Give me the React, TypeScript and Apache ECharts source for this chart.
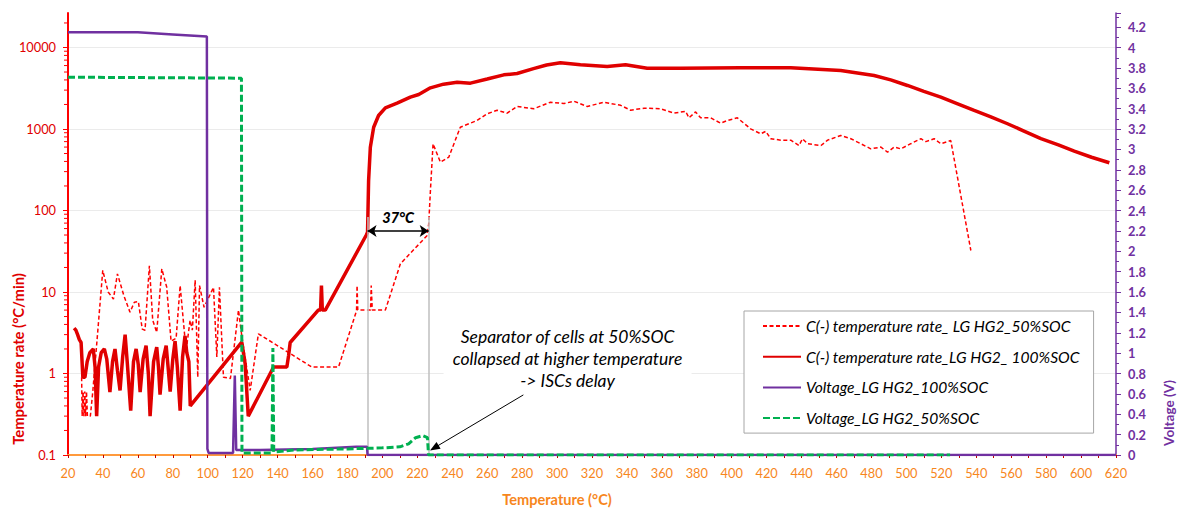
import React, { useEffect, useRef } from 'react';
import * as echarts from 'echarts';

// ---------- data ----------
const rate50T = [27.8, 28.1, 28.6, 29.1, 29.6, 30.1, 30.6, 31.1, 32.8, 34.2, 39.9, 43, 46, 48.3, 52, 55.5, 58, 60.3, 62.5, 64.1, 66.6, 68.5, 70.8, 73.7, 76.5, 79, 81.9, 84.2, 87.6, 89.9, 91.2, 92.8, 94.3, 95.3, 97.9, 103.3, 105.2, 106.7, 109, 113, 117.6, 119.5, 124.3, 129, 159.6, 174.9, 185.2, 185.5, 185.9, 193.2, 193.6, 194.2, 201.7, 210.3, 225.5, 226.5, 227.5, 229, 233.2, 238, 244.6, 254.2, 259.9, 265.7, 271.4, 277.1, 286.6, 296.2, 303.9, 309.6, 317.3, 326.8, 336.4, 342.1, 349.8, 359.3, 366.9, 373.6, 375.5, 379.3, 382.2, 387.9, 393.6, 397.5, 403.2, 410.8, 416.6, 419.5, 422.3, 428.1, 433.8, 438.5, 440.5, 443.4, 451.1, 454.9, 462.4, 468.2, 473.9, 479.6, 485.4, 489.2, 493, 496.8, 502.5, 508.3, 511.1, 515.9, 519.7, 525.4, 536.9];
const rate50V = [0.9, 0.3, 0.6, 0.3, 0.6, 0.3, 0.6, 0.3, 0.3, 0.6, 18.4, 10, 8.2, 16.7, 9, 5.65, 7.5, 7.6, 3.5, 3.4, 21, 4.5, 3.2, 19.2, 11.5, 2.5, 2.7, 12, 1.9, 4.5, 3.4, 14, 0.9, 12, 6.5, 11.4, 1.6, 11.4, 0.9, 0.87, 6, 2.9, 0.62, 3.07, 1.2, 1.2, 5.9, 12, 6, 6, 12, 6, 6, 22.2, 49, 68, 176, 658, 392, 451, 1052, 1271, 1535, 1700, 1564, 1889, 1770, 2133, 2050, 2193, 1889, 2133, 1950, 1700, 1800, 1770, 1564, 1650, 1372, 1620, 1372, 1372, 1178, 1271, 1372, 1005, 873, 937, 760, 730, 730, 627, 760, 660, 627, 730, 833, 760, 660, 571, 600, 520, 600, 571, 660, 760, 700, 760, 660, 722, 32.3];

const rate100T = [23.5, 24.5, 25.5, 26.5, 27.5, 28.5, 29.7, 31, 32.5, 34.5, 35.5, 36.4, 37.5, 39, 40.8, 42.2, 44, 45.5, 46.9, 48.3, 49.8, 51.3, 52.7, 54, 55.9, 57.5, 59, 60.2, 61.3, 63, 64.7, 66, 67, 69, 70.8, 71.8, 72.7, 74.5, 76.2, 77.3, 78.5, 80, 81.3, 82.6, 84.2, 85.6, 87, 88, 89.2, 90, 119.5, 121.4, 123.2, 137.7, 145.3, 146.3, 147.2, 163.3, 164.6, 165.1, 165.6, 167.3, 190.8, 191.5, 192.1, 193.1, 195, 197.8, 201.7, 208.4, 216, 220.8, 227.5, 235, 242.8, 250.4, 260, 269.5, 277.1, 286.5, 294, 301.9, 313.4, 328.7, 339.2, 351.6, 370.7, 405, 433.8, 462.4, 481.5, 491, 500.6, 510, 519.7, 529, 538.8, 548, 557.9, 567, 577, 587, 596.1, 606, 616.2];
const rate100V = [3.6, 3.4, 3.0, 2.6, 2.4, 0.9, 0.9, 1.4, 1.8, 2.0, 1.2, 0.3, 1.2, 1.8, 2.0, 1.5, 0.59, 1.4, 2.0, 1.1, 0.62, 1.6, 3.0, 1.3, 0.35, 1.4, 2.0, 1.3, 0.59, 1.5, 2.2, 1.0, 0.3, 1.4, 2.1, 1.2, 0.55, 1.5, 2.2, 1.2, 0.6, 1.5, 2.5, 1.2, 0.35, 1.6, 2.9, 1.8, 1.4, 0.4, 2.42, 1.33, 0.3, 1.2, 1.2, 1.66, 2.4, 6, 6, 12, 6, 6, 50, 54, 233, 598, 1052, 1465, 1820, 2073, 2455, 2650, 3200, 3550, 3750, 3650, 4100, 4620, 4800, 5500, 6100, 6490, 6130, 5850, 6130, 5570, 5570, 5640, 5640, 5220, 4530, 4000, 3420, 2900, 2455, 2050, 1690, 1420, 1160, 950, 760, 640, 535, 450, 385];

const volt100T = [20, 60, 80, 99.5, 99.8, 100.5, 114.5, 115.5, 116.3, 130, 160, 185, 191.2, 191.5, 620];
const volt100V = [4.15, 4.15, 4.13, 4.11, 0.06, 0.02, 0.02, 0.78, 0.05, 0.05, 0.06, 0.08, 0.08, 0, 0];

const volt50T = [20, 119.3, 119.6, 136.8, 137.3, 137.8, 150, 180, 200, 210, 215, 219, 223, 225.8, 226.4, 525];
const volt50V = [3.71, 3.7, 0.02, 0.02, 1.05, 0.03, 0.05, 0.06, 0.07, 0.08, 0.11, 0.17, 0.19, 0.17, 0, 0];

const legendNames = [
  'C(-) temperature rate_ LG HG2_50%SOC',
  'C(-) temperature rate_LG HG2_ 100%SOC',
  'Voltage_LG HG2_100%SOC',
  'Voltage_LG HG2_50%SOC',
];

const logMinorTicks = [0.2, 0.3, 0.4, 0.5, 0.6, 0.7, 0.8, 0.9, 2, 3, 4, 5, 6, 7, 8, 9, 20, 30, 40, 50, 60, 70, 80, 90, 200, 300, 400, 500, 600, 700, 800, 900, 2000, 3000, 4000, 5000, 6000, 7000, 8000, 9000, 20000];

const gapStart = 191.5;
const gapEnd = 226.5;
const gapLabel = '37°C';
const noteLines = ['Separator of cells at 50%SOC', 'collapsed at higher temperature', '-> ISCs delay'];

const zip = (a: number[], b: number[]) => a.map((x, i) => [x, b[i]]);

const FONT = 'Lato, "Open Sans", sans-serif';
const RED = '#E00000';
const RED2 = '#FF0000';
const PURPLE = '#7030A0';
const GREEN = '#00B050';
const ORANGE = '#F7861C';

export default function App() {
  const ref = useRef<HTMLDivElement>(null);
  useEffect(() => {
    const chart = echarts.init(ref.current!, null, { renderer: 'svg' });
    const option: any = {
      animation: false,
      backgroundColor: '#fff',
      grid: { left: 68, right: 63, top: 13, bottom: 53, outerBoundsMode: 'none' },
      legend: {
        data: legendNames,
        orient: 'vertical',
        left: 744,
        top: 311,
        padding: [7, 14, 7, 18],
        itemWidth: 38,
        itemHeight: 16,
        itemGap: 14.7,
        borderColor: '#A6A6A6',
        borderWidth: 1,
        backgroundColor: '#fff',
        itemStyle: { opacity: 0 },
        textStyle: { fontFamily: FONT, fontStyle: 'italic', fontSize: 15.6, color: '#000' },
        selectedMode: false,
      },
      xAxis: {
        type: 'value',
        min: 20,
        max: 620,
        interval: 20,
        axisLine: { lineStyle: { color: '#FF9A3C', width: 2 } },
        axisTick: { show: true, length: 3, lineStyle: { color: '#C00000' } },
        minorTick: { show: true, splitNumber: 2, length: 3, lineStyle: { color: '#C00000' } },
        axisLabel: { color: ORANGE, fontFamily: FONT, fontSize: 12.8, margin: 11 },
        splitLine: { show: false },
      },
      yAxis: [
        {
          type: 'log',
          logBase: 10,
          min: 0.1,
          max: 26500,
          position: 'left',
          axisLine: { show: true, lineStyle: { color: RED2, width: 2 } },
          axisTick: { show: true, length: 5, lineStyle: { color: RED2 } },
          axisLabel: {
            color: RED,
            fontFamily: FONT,
            fontSize: 12.8,
            margin: 12,
            showMaxLabel: false,
            formatter: (v: number) => (v < 1 ? v.toFixed(1) : String(Math.round(v))),
          },
          splitLine: { show: true, showMaxLine: false, showMinLine: false, lineStyle: { color: '#EBEBEB', width: 1 } },
        },
        {
          type: 'value',
          min: 0,
          max: 4.34,
          interval: 0.2,
          position: 'right',
          axisLine: { show: true, lineStyle: { color: PURPLE, width: 1.5 } },
          axisTick: { show: true, length: 5, lineStyle: { color: PURPLE } },
          minorTick: { show: true, splitNumber: 2, length: 3, lineStyle: { color: PURPLE } },
          axisLabel: {
            color: PURPLE,
            fontFamily: FONT,
            fontSize: 12.8,
            fontWeight: 'bold',
            margin: 12,
            showMaxLabel: false,
            formatter: (v: number) => String(Math.round(v * 10) / 10),
          },
          splitLine: { show: false },
        },
      ],
      series: [
        {
          name: legendNames[0],
          type: 'line',
          yAxisIndex: 0,
          data: zip(rate50T, rate50V),
          symbol: 'none',
          showSymbol: false,
          lineStyle: { color: RED2, width: 1.5, type: [4, 2.5] },
          itemStyle: { color: RED2 },
          z: 3,
        },
        {
          name: legendNames[1],
          type: 'line',
          yAxisIndex: 0,
          data: zip(rate100T, rate100V),
          symbol: 'none',
          showSymbol: false,
          lineStyle: { color: RED, width: 3.5 },
          itemStyle: { color: RED },
          z: 4,
          markLine: {
            silent: true,
            animation: false,
            label: { show: false },
            symbol: ['none', 'none'],
            lineStyle: { color: '#BFBFBF', width: 1.5, type: 'solid' },
            data: [
              [{ coord: [gapStart, 0.1] }, { coord: [gapStart, 83] }],
              [{ coord: [gapEnd, 0.1] }, { coord: [gapEnd, 83] }],
              [
                { coord: [gapStart, 56], symbol: 'arrow', symbolSize: 9, lineStyle: { color: '#000', width: 1.5 } },
                { coord: [gapEnd, 56], symbol: 'arrow', symbolSize: 9, lineStyle: { color: '#000', width: 1.5 } },
              ],
            ],
          },
        },
        {
          name: legendNames[2],
          type: 'line',
          yAxisIndex: 1,
          data: zip(volt100T, volt100V),
          symbol: 'none',
          showSymbol: false,
          lineStyle: { color: PURPLE, width: 2.5 },
          itemStyle: { color: PURPLE },
          z: 5,
        },
        {
          name: legendNames[3],
          type: 'line',
          yAxisIndex: 1,
          data: zip(volt50T, volt50V),
          symbol: 'none',
          showSymbol: false,
          lineStyle: { color: GREEN, width: 3, type: [7, 3] },
          itemStyle: { color: GREEN },
          z: 6,
          markLine: {
            silent: true,
            animation: false,
            label: { show: false },
            symbol: ['none', 'triangle'],
            symbolSize: [8, 10],
            lineStyle: { color: '#000', width: 1, type: 'solid' },
            data: [[{ coord: [280.7, 0.59] }, { coord: [229.7, 0.07] }]],
          },
        },
        {
          name: 'minor ticks',
          type: 'custom',
          yAxisIndex: 0,
          clip: false,
          silent: true,
          data: logMinorTicks.map((v) => [20, v]),
          encode: { x: 0, y: 1 },
          renderItem: (params: any, api: any) => {
            const p = api.coord([api.value(0), api.value(1)]);
            return {
              type: 'line',
              shape: { x1: p[0] - 4, y1: p[1], x2: p[0], y2: p[1] },
              style: { stroke: RED2, lineWidth: 1 },
            };
          },
          z: 10,
        },
      ],
    };
    chart.setOption(option);

    const p37 = chart.convertToPixel({ xAxisIndex: 0, yAxisIndex: 0 }, [(gapStart + gapEnd) / 2, 82]) as number[];
    const pNote = chart.convertToPixel({ xAxisIndex: 0, yAxisIndex: 1 }, [306, 0.95]) as number[];

    chart.setOption({
      graphic: [
        {
          type: 'text',
          x: 18,
          y: 359,
          rotation: Math.PI / 2,
          style: { text: 'Temperature rate (°C/min)', fill: RED, font: `bold 14.8px ${FONT}`, align: 'center', verticalAlign: 'middle' },
        },
        {
          type: 'text',
          x: 1169,
          y: 413,
          rotation: Math.PI / 2,
          style: { text: 'Voltage (V)', fill: PURPLE, font: `bold 13.5px ${FONT}`, align: 'center', verticalAlign: 'middle' },
        },
        {
          type: 'text',
          x: 557,
          y: 499,
          style: { text: 'Temperature (°C)', fill: ORANGE, font: `bold 14.6px ${FONT}`, align: 'center', verticalAlign: 'middle' },
        },
        {
          type: 'text',
          x: p37[0],
          y: p37[1],
          z: 100,
          style: { text: gapLabel, fill: '#000', font: `italic 900 14.5px ${FONT}`, align: 'center', verticalAlign: 'middle' },
        },
        {
          type: 'rect',
          z: 99,
          shape: { x: pNote[0] - 124, y: pNote[1] - 35, width: 248, height: 70 },
          style: { fill: '#fff' },
        },
        {
          type: 'text',
          x: pNote[0],
          y: pNote[1],
          z: 100,
          style: {
            text: noteLines.join('\n'),
            fill: '#000',
            font: `italic 17.5px ${FONT}`,
            lineHeight: 22,
            align: 'center',
            verticalAlign: 'middle',
          },
        },
      ],
    });

    return () => chart.dispose();
  }, []);
  return <div ref={ref} style={{ position: 'fixed', left: 0, top: 0, width: 1179, height: 508 }} />;
}
